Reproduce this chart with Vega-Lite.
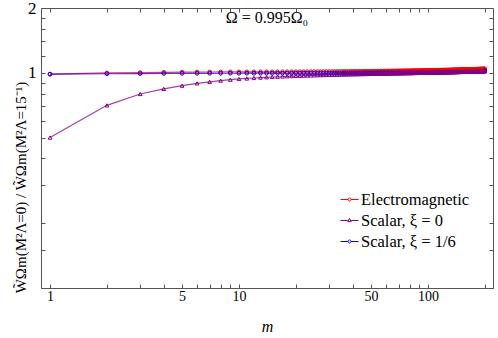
{
"$schema": "https://vega.github.io/schema/vega-lite/v6.json",
"width": 452, "height": 280,
"autosize": {"type": "none"},
"padding": {"left": 41, "top": 8, "right": 5, "bottom": 50},
"title": {"text": "Ω = 0.995Ω₀", "offset": -27, "font": "Liberation Serif", "fontSize": 16, "fontWeight": "normal", "color": "#000"},
"data": {"values": [
{"m":1,"e":0.986,"a":0.500,"b":0.985},
{"m":2,"e":0.998,"a":0.706,"b":0.990},
{"m":3,"e":1.002,"a":0.797,"b":0.992},
{"m":4,"e":1.005,"a":0.842,"b":0.993},
{"m":5,"e":1.0072,"a":0.871,"b":0.9938},
{"m":6,"e":1.0081,"a":0.893,"b":0.9943},
{"m":7,"e":1.0087,"a":0.908,"b":0.9947},
{"m":8,"e":1.0091,"a":0.920,"b":0.9950},
{"m":9,"e":1.0094,"a":0.929,"b":0.9952},
{"m":10,"e":1.0097,"a":0.936,"b":0.9953},
{"m":11,"e":1.0099,"a":0.941,"b":0.9954},
{"m":12,"e":1.0100,"a":0.946,"b":0.9956},
{"m":13,"e":1.0102,"a":0.950,"b":0.9957},
{"m":14,"e":1.0104,"a":0.953,"b":0.9958},
{"m":15,"e":1.0106,"a":0.956,"b":0.9960},
{"m":16,"e":1.0107,"a":0.9586,"b":0.9961},
{"m":17,"e":1.0109,"a":0.9609,"b":0.9962},
{"m":18,"e":1.0111,"a":0.9630,"b":0.9963},
{"m":19,"e":1.0112,"a":0.9649,"b":0.9965},
{"m":20,"e":1.0114,"a":0.9666,"b":0.9966},
{"m":21,"e":1.0116,"a":0.9682,"b":0.9967},
{"m":22,"e":1.0117,"a":0.9696,"b":0.9969},
{"m":23,"e":1.0119,"a":0.9709,"b":0.9970},
{"m":24,"e":1.0121,"a":0.9721,"b":0.9971},
{"m":25,"e":1.0123,"a":0.9733,"b":0.9973},
{"m":26,"e":1.0124,"a":0.9743,"b":0.9974},
{"m":27,"e":1.0126,"a":0.9753,"b":0.9975},
{"m":28,"e":1.0128,"a":0.9762,"b":0.9976},
{"m":29,"e":1.0129,"a":0.9771,"b":0.9978},
{"m":30,"e":1.0131,"a":0.9779,"b":0.9979},
{"m":31,"e":1.0133,"a":0.9787,"b":0.9980},
{"m":32,"e":1.0134,"a":0.9794,"b":0.9982},
{"m":33,"e":1.0136,"a":0.9801,"b":0.9983},
{"m":34,"e":1.0138,"a":0.9808,"b":0.9984},
{"m":35,"e":1.0140,"a":0.9814,"b":0.9986},
{"m":36,"e":1.0141,"a":0.9820,"b":0.9987},
{"m":37,"e":1.0143,"a":0.9826,"b":0.9988},
{"m":38,"e":1.0145,"a":0.9832,"b":0.9989},
{"m":39,"e":1.0146,"a":0.9837,"b":0.9991},
{"m":40,"e":1.0148,"a":0.9842,"b":0.9992},
{"m":41,"e":1.0150,"a":0.9847,"b":0.9993},
{"m":42,"e":1.0151,"a":0.9852,"b":0.9995},
{"m":43,"e":1.0153,"a":0.9856,"b":0.9996},
{"m":44,"e":1.0155,"a":0.9861,"b":0.9997},
{"m":45,"e":1.0157,"a":0.9865,"b":0.9999},
{"m":46,"e":1.0158,"a":0.9869,"b":1.0000},
{"m":47,"e":1.0160,"a":0.9873,"b":1.0001},
{"m":48,"e":1.0162,"a":0.9877,"b":1.0002},
{"m":49,"e":1.0163,"a":0.9881,"b":1.0004},
{"m":50,"e":1.0165,"a":0.9885,"b":1.0005},
{"m":51,"e":1.0167,"a":0.9889,"b":1.0006},
{"m":52,"e":1.0168,"a":0.9892,"b":1.0008},
{"m":53,"e":1.0170,"a":0.9896,"b":1.0009},
{"m":54,"e":1.0172,"a":0.9899,"b":1.0010},
{"m":55,"e":1.0174,"a":0.9902,"b":1.0012},
{"m":56,"e":1.0175,"a":0.9906,"b":1.0013},
{"m":57,"e":1.0177,"a":0.9909,"b":1.0014},
{"m":58,"e":1.0179,"a":0.9912,"b":1.0015},
{"m":59,"e":1.0180,"a":0.9915,"b":1.0017},
{"m":60,"e":1.0182,"a":0.9918,"b":1.0018},
{"m":61,"e":1.0184,"a":0.9921,"b":1.0019},
{"m":62,"e":1.0185,"a":0.9924,"b":1.0021},
{"m":63,"e":1.0187,"a":0.9927,"b":1.0022},
{"m":64,"e":1.0189,"a":0.9929,"b":1.0023},
{"m":65,"e":1.0191,"a":0.9932,"b":1.0025},
{"m":66,"e":1.0192,"a":0.9935,"b":1.0026},
{"m":67,"e":1.0194,"a":0.9938,"b":1.0027},
{"m":68,"e":1.0196,"a":0.9940,"b":1.0028},
{"m":69,"e":1.0197,"a":0.9943,"b":1.0030},
{"m":70,"e":1.0199,"a":0.9945,"b":1.0031},
{"m":71,"e":1.0201,"a":0.9948,"b":1.0032},
{"m":72,"e":1.0202,"a":0.9950,"b":1.0034},
{"m":73,"e":1.0204,"a":0.9953,"b":1.0035},
{"m":74,"e":1.0206,"a":0.9955,"b":1.0036},
{"m":75,"e":1.0208,"a":0.9958,"b":1.0038},
{"m":76,"e":1.0209,"a":0.9960,"b":1.0039},
{"m":77,"e":1.0211,"a":0.9962,"b":1.0040},
{"m":78,"e":1.0213,"a":0.9965,"b":1.0041},
{"m":79,"e":1.0214,"a":0.9967,"b":1.0043},
{"m":80,"e":1.0216,"a":0.9969,"b":1.0044},
{"m":81,"e":1.0218,"a":0.9971,"b":1.0045},
{"m":82,"e":1.0219,"a":0.9973,"b":1.0047},
{"m":83,"e":1.0221,"a":0.9976,"b":1.0048},
{"m":84,"e":1.0223,"a":0.9978,"b":1.0049},
{"m":85,"e":1.0225,"a":0.9980,"b":1.0051},
{"m":86,"e":1.0226,"a":0.9982,"b":1.0052},
{"m":87,"e":1.0228,"a":0.9984,"b":1.0053},
{"m":88,"e":1.0230,"a":0.9986,"b":1.0054},
{"m":89,"e":1.0231,"a":0.9988,"b":1.0056},
{"m":90,"e":1.0233,"a":0.9990,"b":1.0057},
{"m":91,"e":1.0235,"a":0.9992,"b":1.0058},
{"m":92,"e":1.0236,"a":0.9994,"b":1.0060},
{"m":93,"e":1.0238,"a":0.9996,"b":1.0061},
{"m":94,"e":1.0240,"a":0.9998,"b":1.0062},
{"m":95,"e":1.0242,"a":1.0000,"b":1.0064},
{"m":96,"e":1.0243,"a":1.0002,"b":1.0065},
{"m":97,"e":1.0245,"a":1.0004,"b":1.0066},
{"m":98,"e":1.0247,"a":1.0006,"b":1.0067},
{"m":99,"e":1.0248,"a":1.0008,"b":1.0069},
{"m":100,"e":1.0250,"a":1.0010,"b":1.0070},
{"m":101,"e":1.0252,"a":1.0012,"b":1.0071},
{"m":102,"e":1.0253,"a":1.0014,"b":1.0073},
{"m":103,"e":1.0255,"a":1.0016,"b":1.0074},
{"m":104,"e":1.0257,"a":1.0018,"b":1.0075},
{"m":105,"e":1.0259,"a":1.0019,"b":1.0077},
{"m":106,"e":1.0260,"a":1.0021,"b":1.0078},
{"m":107,"e":1.0262,"a":1.0023,"b":1.0079},
{"m":108,"e":1.0264,"a":1.0025,"b":1.0080},
{"m":109,"e":1.0265,"a":1.0027,"b":1.0082},
{"m":110,"e":1.0267,"a":1.0029,"b":1.0083},
{"m":111,"e":1.0269,"a":1.0030,"b":1.0084},
{"m":112,"e":1.0270,"a":1.0032,"b":1.0086},
{"m":113,"e":1.0272,"a":1.0034,"b":1.0087},
{"m":114,"e":1.0274,"a":1.0036,"b":1.0088},
{"m":115,"e":1.0276,"a":1.0037,"b":1.0090},
{"m":116,"e":1.0277,"a":1.0039,"b":1.0091},
{"m":117,"e":1.0279,"a":1.0041,"b":1.0092},
{"m":118,"e":1.0281,"a":1.0043,"b":1.0093},
{"m":119,"e":1.0282,"a":1.0044,"b":1.0095},
{"m":120,"e":1.0284,"a":1.0046,"b":1.0096},
{"m":121,"e":1.0286,"a":1.0048,"b":1.0097},
{"m":122,"e":1.0287,"a":1.0049,"b":1.0099},
{"m":123,"e":1.0289,"a":1.0051,"b":1.0100},
{"m":124,"e":1.0291,"a":1.0053,"b":1.0101},
{"m":125,"e":1.0293,"a":1.0055,"b":1.0103},
{"m":126,"e":1.0294,"a":1.0056,"b":1.0104},
{"m":127,"e":1.0296,"a":1.0058,"b":1.0105},
{"m":128,"e":1.0298,"a":1.0060,"b":1.0106},
{"m":129,"e":1.0299,"a":1.0061,"b":1.0108},
{"m":130,"e":1.0301,"a":1.0063,"b":1.0109},
{"m":131,"e":1.0303,"a":1.0065,"b":1.0110},
{"m":132,"e":1.0304,"a":1.0066,"b":1.0112},
{"m":133,"e":1.0306,"a":1.0068,"b":1.0113},
{"m":134,"e":1.0308,"a":1.0069,"b":1.0114},
{"m":135,"e":1.0310,"a":1.0071,"b":1.0116},
{"m":136,"e":1.0311,"a":1.0073,"b":1.0117},
{"m":137,"e":1.0313,"a":1.0074,"b":1.0118},
{"m":138,"e":1.0315,"a":1.0076,"b":1.0119},
{"m":139,"e":1.0316,"a":1.0078,"b":1.0121},
{"m":140,"e":1.0318,"a":1.0079,"b":1.0122},
{"m":141,"e":1.0320,"a":1.0081,"b":1.0123},
{"m":142,"e":1.0321,"a":1.0082,"b":1.0125},
{"m":143,"e":1.0323,"a":1.0084,"b":1.0126},
{"m":144,"e":1.0325,"a":1.0086,"b":1.0127},
{"m":145,"e":1.0327,"a":1.0087,"b":1.0129},
{"m":146,"e":1.0328,"a":1.0089,"b":1.0130},
{"m":147,"e":1.0330,"a":1.0090,"b":1.0131},
{"m":148,"e":1.0332,"a":1.0092,"b":1.0132},
{"m":149,"e":1.0333,"a":1.0093,"b":1.0134},
{"m":150,"e":1.0335,"a":1.0095,"b":1.0135},
{"m":151,"e":1.0337,"a":1.0097,"b":1.0136},
{"m":152,"e":1.0338,"a":1.0098,"b":1.0138},
{"m":153,"e":1.0340,"a":1.0100,"b":1.0139},
{"m":154,"e":1.0342,"a":1.0101,"b":1.0140},
{"m":155,"e":1.0344,"a":1.0103,"b":1.0142},
{"m":156,"e":1.0345,"a":1.0104,"b":1.0143},
{"m":157,"e":1.0347,"a":1.0106,"b":1.0144},
{"m":158,"e":1.0349,"a":1.0107,"b":1.0145},
{"m":159,"e":1.0350,"a":1.0109,"b":1.0147},
{"m":160,"e":1.0352,"a":1.0111,"b":1.0148},
{"m":161,"e":1.0354,"a":1.0112,"b":1.0149},
{"m":162,"e":1.0355,"a":1.0114,"b":1.0151},
{"m":163,"e":1.0357,"a":1.0115,"b":1.0152},
{"m":164,"e":1.0359,"a":1.0117,"b":1.0153},
{"m":165,"e":1.0361,"a":1.0118,"b":1.0155},
{"m":166,"e":1.0362,"a":1.0120,"b":1.0156},
{"m":167,"e":1.0364,"a":1.0121,"b":1.0157},
{"m":168,"e":1.0366,"a":1.0123,"b":1.0158},
{"m":169,"e":1.0367,"a":1.0124,"b":1.0160},
{"m":170,"e":1.0369,"a":1.0126,"b":1.0161},
{"m":171,"e":1.0371,"a":1.0127,"b":1.0162},
{"m":172,"e":1.0372,"a":1.0129,"b":1.0164},
{"m":173,"e":1.0374,"a":1.0130,"b":1.0165},
{"m":174,"e":1.0376,"a":1.0132,"b":1.0166},
{"m":175,"e":1.0378,"a":1.0133,"b":1.0168},
{"m":176,"e":1.0379,"a":1.0135,"b":1.0169},
{"m":177,"e":1.0381,"a":1.0136,"b":1.0170},
{"m":178,"e":1.0383,"a":1.0138,"b":1.0171},
{"m":179,"e":1.0384,"a":1.0139,"b":1.0173},
{"m":180,"e":1.0386,"a":1.0141,"b":1.0174},
{"m":181,"e":1.0388,"a":1.0142,"b":1.0175},
{"m":182,"e":1.0389,"a":1.0144,"b":1.0177},
{"m":183,"e":1.0391,"a":1.0145,"b":1.0178},
{"m":184,"e":1.0393,"a":1.0147,"b":1.0179},
{"m":185,"e":1.0395,"a":1.0148,"b":1.0181},
{"m":186,"e":1.0396,"a":1.0150,"b":1.0182},
{"m":187,"e":1.0398,"a":1.0151,"b":1.0183},
{"m":188,"e":1.0400,"a":1.0153,"b":1.0184},
{"m":189,"e":1.0401,"a":1.0154,"b":1.0186},
{"m":190,"e":1.0403,"a":1.0155,"b":1.0187},
{"m":191,"e":1.0405,"a":1.0157,"b":1.0188},
{"m":192,"e":1.0406,"a":1.0158,"b":1.0190},
{"m":193,"e":1.0408,"a":1.0160,"b":1.0191},
{"m":194,"e":1.0410,"a":1.0161,"b":1.0192},
{"m":195,"e":1.0412,"a":1.0163,"b":1.0194},
{"m":196,"e":1.0413,"a":1.0164,"b":1.0195},
{"m":197,"e":1.0415,"a":1.0166,"b":1.0196},
{"m":198,"e":1.0417,"a":1.0167,"b":1.0197},
{"m":199,"e":1.0418,"a":1.0169,"b":1.0199},
{"m":200,"e":1.0420,"a":1.0170,"b":1.0200}
]},
"transform": [{"fold": ["e", "a", "b"], "as": ["series", "value"]}],
"encoding": {
  "color": {"field": "series", "type": "nominal",
    "scale": {"domain": ["e", "a", "b"], "range": ["#ff0000", "#800080", "#0000ff"]},
    "legend": {"orient": "none", "legendX": 299, "legendY": 182, "title": null,
      "labelExpr": "datum.value == 'e' ? 'Electromagnetic' : datum.value == 'a' ? 'Scalar, ξ = 0' : 'Scalar, ξ = 1/6'",
      "labelFont": "Liberation Serif", "labelFontSize": 16.5, "labelColor": "#000",
      "symbolType": {"expr": "datum.value == 'a' ? 'M-1,0H-0.2M0.2,0H1M0,-0.22L0.2,0.13L-0.2,0.13Z' : 'M-1,0H-0.17M0.17,0H1M-0.17,0A0.17,0.17 0 1,1 0.17,0A0.17,0.17 0 1,1 -0.17,0'"},
      "symbolSize": 324, "symbolStrokeWidth": 1, "symbolFillColor": "white", "symbolOpacity": 1, "rowPadding": 3, "labelOffset": 2}
  }
},
"layer": [
  {"mark": {"type": "line", "strokeWidth": 1.2, "opacity": 0.75},
   "encoding": {
     "x": {"field": "m", "type": "quantitative", "scale": {"type": "log", "domain": [0.896, 221], "nice": false},
       "axis": {"orient": "bottom", "values": [1,2,3,4,5,6,7,8,9,10,20,30,40,50,60,70,80,90,100,200], "tickSize": -4,
         "labelExpr": "(datum.value == 1 || datum.value == 5 || datum.value == 10 || datum.value == 50 || datum.value == 100) ? datum.label : ''",
         "labelFontSize": 14, "labelPadding": 5, "labelOverlap": false, "labelFlush": false,
         "title": "m", "titleFontStyle": "italic", "titleFontSize": 16, "titlePadding": 15}},
     "y": {"field": "value", "type": "quantitative", "scale": {"type": "log", "domain": [0.1, 2], "nice": false},
       "axis": {"orient": "left", "values": [0.1,0.15,0.2,0.3,0.4,0.5,0.6,0.7,0.8,0.9,1,1.2,1.4,1.6,1.8,2], "tickSize": -4,
         "labelExpr": "(datum.value == 1 || datum.value == 2) ? datum.label : ''",
         "labelFontSize": 17, "labelPadding": 9, "labelOverlap": false, "labelFlush": false,
         "title": "W̃Ωm(M²Λ=0) / W̃Ωm(M²Λ=15⁻¹)", "titleFontSize": 15, "titleAngle": -90,
         "titleX": -21, "titleY": 179, "titleAlign": "center", "titleBaseline": "middle"}}
   }},
  {"transform": [{"filter": "datum.series != 'a'"}],
   "mark": {"type": "point", "shape": "circle", "filled": false, "size": 14, "strokeWidth": 1, "opacity": 1},
   "encoding": {
     "x": {"field": "m", "type": "quantitative", "scale": {"type": "log", "domain": [0.896, 221], "nice": false},
       "axis": {"orient": "top", "values": [1,2,3,4,5,6,7,8,9,10,20,30,40,50,60,70,80,90,100,200], "tickSize": -4, "labels": false, "title": null}},
     "y": {"field": "value", "type": "quantitative", "scale": {"type": "log", "domain": [0.1, 2], "nice": false},
       "axis": {"orient": "right", "values": [0.1,0.15,0.2,0.3,0.4,0.5,0.6,0.7,0.8,0.9,1,1.2,1.4,1.6,1.8,2], "tickSize": -4, "labels": false, "title": null}}
   }},
  {"transform": [{"filter": "datum.series == 'a'"}],
   "mark": {"type": "point", "shape": "triangle-up", "filled": false, "size": 14, "strokeWidth": 1, "opacity": 1},
   "encoding": {
     "x": {"field": "m", "type": "quantitative", "scale": {"type": "log", "domain": [0.896, 221], "nice": false}, "axis": null},
     "y": {"field": "value", "type": "quantitative", "scale": {"type": "log", "domain": [0.1, 2], "nice": false}, "axis": null}
   }}
],
"resolve": {"axis": {"x": "independent", "y": "independent"}},
"config": {
  "background": "white",
  "view": {"stroke": "#555", "strokeWidth": 1},
  "axis": {"domain": false, "grid": false, "ticks": true, "tickColor": "#555", "tickWidth": 1,
    "labelFont": "Liberation Serif", "titleFont": "Liberation Serif", "labelColor": "#000", "titleColor": "#000", "titleFontWeight": "normal"}
}
}
